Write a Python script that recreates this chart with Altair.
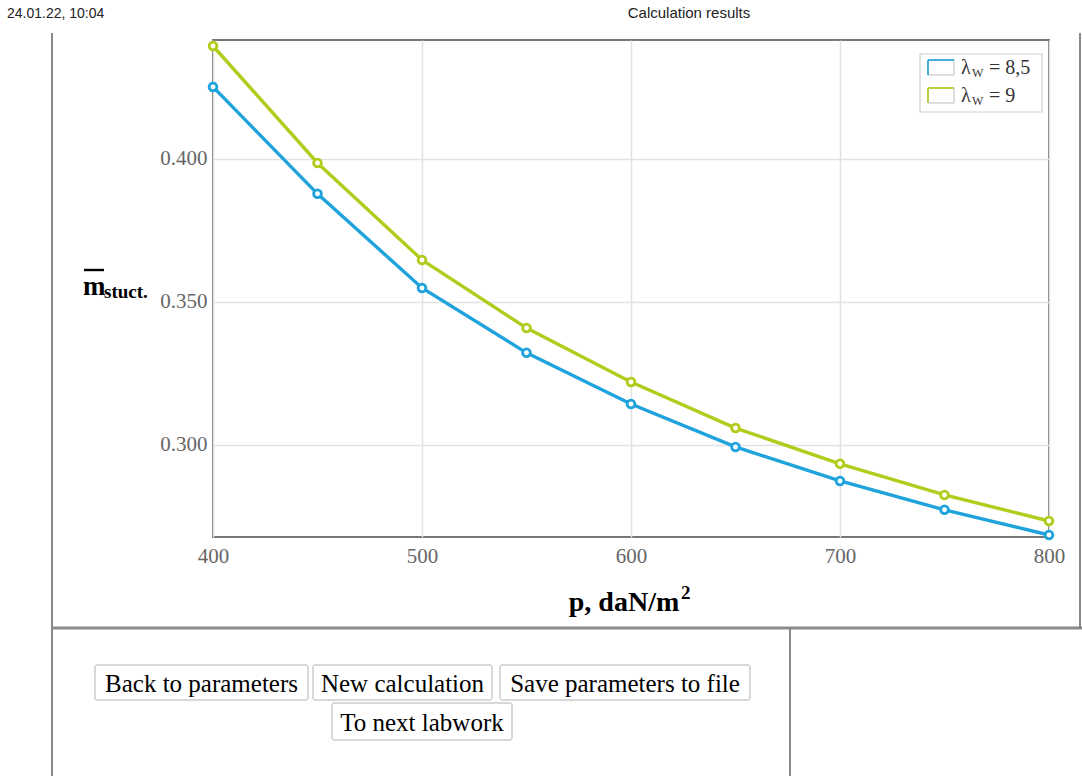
import altair as alt
import pandas as pd

# ---- data ----
p_values = [400, 450, 500, 550, 600, 650, 700, 750, 800]
m_lambda_85 = [0.4252, 0.3878, 0.3549, 0.3322, 0.3143, 0.2993, 0.2874, 0.2773, 0.2685]
m_lambda_9 = [0.4395, 0.3986, 0.3647, 0.3409, 0.3220, 0.3059, 0.2934, 0.2825, 0.2734]
series_names = ["λw = 8,5", "λw = 9"]
legend_values = ["= 8,5", "= 9"]
x_ticks = [400, 500, 600, 700, 800]
y_ticks = [0.30, 0.35, 0.40]
button_labels = ["Back to parameters", "New calculation", "Save parameters to file", "To next labwork"]
header_left = "24.01.22, 10:04"
header_center = "Calculation results"

COLORS = ["#1fa3dc", "#b3cb1c"]
SERIF = "Liberation Serif"
SANS = "Liberation Sans"

rows = []
for name, vals in zip(series_names, [m_lambda_85, m_lambda_9]):
    for p, m in zip(p_values, vals):
        rows.append({"p": p, "m": m, "series": name})
df = pd.DataFrame(rows)

# plot-area origin on the page
OX, OY = 213, 40
W, H = 836, 497


def px(x):
    return x - OX


def py(y):
    return y - OY


one = pd.DataFrame({"k": [0]})


def text(x, y, s, **kw):
    return alt.Chart(one).mark_text(**kw).encode(
        x=alt.value(px(x)), y=alt.value(py(y)), text=alt.value(s)
    )


def rule(x1, y1, x2, y2, color="#8a8a8a", width=2):
    return alt.Chart(one).mark_rule(color=color, strokeWidth=width).encode(
        x=alt.value(px(x1)), x2=alt.value(px(x2)), y=alt.value(py(y1)), y2=alt.value(py(y2))
    )


def box(x1, y1, x2, y2, stroke="#b0b0b0", width=1, radius=2):
    return alt.Chart(one).mark_rect(
        fill="white", stroke=stroke, strokeWidth=width, cornerRadius=radius
    ).encode(
        x=alt.value(px(x1)), x2=alt.value(px(x2)), y=alt.value(py(y1)), y2=alt.value(py(y2))
    )


xscale = alt.Scale(domain=[400, 800], nice=False, zero=False)
yscale = alt.Scale(domain=[0.2678, 0.4416], nice=False, zero=False)
cscale = alt.Scale(domain=series_names, range=COLORS)

base = alt.Chart(df).encode(
    x=alt.X("p:Q", scale=xscale,
            axis=alt.Axis(values=x_ticks, title=None, labelFlush=False, labelPadding=8)),
    y=alt.Y("m:Q", scale=yscale,
            axis=alt.Axis(values=y_ticks, format=".3f", title=None, labelPadding=6)),
)

lines = base.mark_line(strokeWidth=3.4).encode(
    color=alt.Color("series:N", scale=cscale, legend=None)
)
points = base.mark_point(filled=False, fill="white", size=60, strokeWidth=2.8, opacity=1).encode(
    stroke=alt.Stroke("series:N", scale=cscale, legend=None)
)

layers = [lines, points]

# legend (custom, to allow the subscript)
layers.append(box(920, 54, 1042, 112, stroke="#cfcfcf", width=1.2, radius=0))
for i, (lbl, col) in enumerate(zip(legend_values, COLORS)):
    y0 = 60 + i * 28
    layers.append(box(928, y0, 954, y0 + 15, stroke="#bdbdbd", width=1, radius=0))
    layers.append(rule(928, y0, 954, y0, color=col, width=1.6))
    layers.append(rule(928, y0, 928, y0 + 15, color=col, width=1.6))
    layers.append(text(961, y0 + 8, "λ", font=SERIF, fontSize=20, align="left",
                       baseline="middle", color="#333"))
    layers.append(text(972, y0 + 13, "W", font=SERIF, fontSize=12, align="left",
                       baseline="middle", color="#333"))
    layers.append(text(989, y0 + 8, lbl, font=SERIF, fontSize=20, align="left",
                       baseline="middle", color="#333"))

# y-axis title: m with overline, subscript "stuct."
layers.append(text(83, 295, "m", font=SERIF, fontSize=27, fontWeight="bold",
                   align="left", baseline="alphabetic", color="black"))
layers.append(rule(84, 270, 104, 270, color="black", width=2.4))
layers.append(text(104, 298, "stuct.", font=SERIF, fontSize=19, fontWeight="bold",
                   align="left", baseline="alphabetic", color="black"))

# x-axis title
layers.append(text(624, 611, "p, daN/m", font=SERIF, fontSize=28, fontWeight="bold",
                   align="center", baseline="alphabetic", color="black"))
layers.append(text(681, 599, "2", font=SERIF, fontSize=19, fontWeight="bold",
                   align="left", baseline="alphabetic", color="black"))

# page header
layers.append(text(7, 18, header_left, font=SANS, fontSize=14, align="left",
                   baseline="alphabetic", color="#222"))
layers.append(text(689, 18, header_center, font=SANS, fontSize=15, align="center",
                   baseline="alphabetic", color="#222"))

# page frame lines
layers.append(rule(52, 33, 52, 776, width=2))
layers.append(rule(1080, 33, 1080, 628, width=2))
layers.append(rule(52, 628, 1082, 628, width=3))
layers.append(rule(790, 628, 790, 776, width=2))

# buttons
btns = [
    (95, 665, 308, 700),
    (313, 665, 492, 700),
    (500, 665, 750, 700),
    (332, 703, 512, 740),
]
for lbl, (x1, y1, x2, y2) in zip(button_labels, btns):
    layers.append(box(x1, y1, x2, y2))
    layers.append(text((x1 + x2) / 2, (y1 + y2) / 2 + 1, lbl, font=SERIF, fontSize=25,
                       align="center", baseline="middle", color="black"))

chart = alt.layer(*layers).properties(
    width=W,
    height=H,
    padding={"left": OX, "top": OY, "right": 1082 - OX - W, "bottom": 776 - OY - H},
    autosize=alt.AutoSizeParams(type="none"),
    background="white",
).configure_view(
    stroke="#777", strokeWidth=2
).configure_axis(
    labelFont=SERIF, labelFontSize=21, labelColor="#666",
    tickSize=0, domain=False,
    gridColor="#e2e2e2", gridWidth=1.5,
)

chart.save("out.html", embed_options={"renderer": "svg", "actions": False})
